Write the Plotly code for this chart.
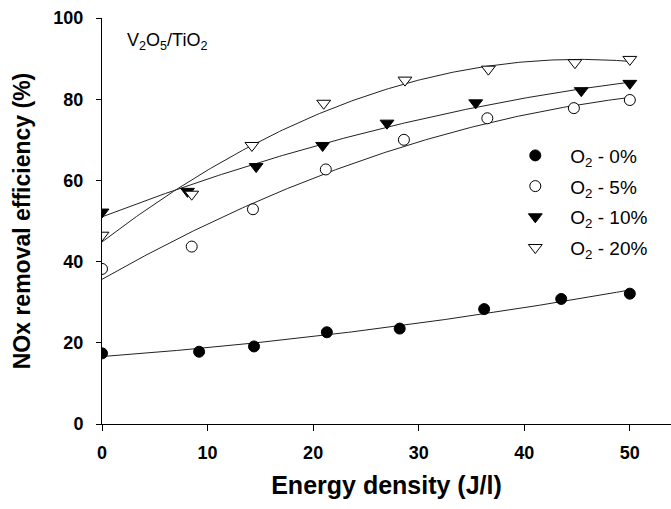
import numpy as np
import plotly.graph_objects as go

# Data
x_o2_0 = [0, 9.2, 14.4, 21.3, 28.2, 36.2, 43.5, 50]
y_o2_0 = [17.4, 17.8, 19.1, 22.6, 23.5, 28.3, 30.8, 32.1]

x_o2_5 = [0, 8.5, 14.3, 21.2, 28.6, 36.5, 44.7, 50]
y_o2_5 = [38.2, 43.7, 52.9, 62.7, 70.0, 75.3, 77.8, 79.8]

x_o2_10 = [0, 8.1, 14.6, 20.9, 27.0, 35.4, 45.4, 50]
y_o2_10 = [52.2, 57.3, 63.4, 68.6, 74.1, 79.1, 82.1, 83.9]

x_o2_20 = [0, 8.5, 14.2, 21.0, 28.7, 36.6, 44.8, 50]
y_o2_20 = [46.5, 56.6, 68.6, 79.0, 84.7, 87.4, 89.0, 89.8]

series_names = ["0%", "5%", "10%", "20%"]
x_ticks = [0, 10, 20, 30, 40, 50]
y_ticks = [0, 20, 40, 60, 80, 100]

FONT = "Liberation Sans, Arial, sans-serif"

def sub(s, px):
    return '<sub style="font-size:%dpx">%s</sub>' % (px, s)

def o2_label(pct):
    return 'O%s - %s' % (sub("2", 17), pct)

styles = [
    dict(symbol="circle", color="black", line=dict(color="black", width=1)),
    dict(symbol="circle", color="white", line=dict(color="black", width=1)),
    dict(symbol="triangle-down", color="black", line=dict(color="black", width=1)),
    dict(symbol="triangle-down", color="white", line=dict(color="black", width=1)),
]
sizes = [11, 11, 12, 12]

data = [(x_o2_0, y_o2_0), (x_o2_5, y_o2_5), (x_o2_10, y_o2_10), (x_o2_20, y_o2_20)]

fig = go.Figure()

# regression curves (2nd order polynomial fit of each series)
for (xs, ys) in data:
    coef = np.polyfit(xs, ys, 2)
    xf = np.linspace(min(xs), max(xs), 200)
    fig.add_trace(go.Scatter(x=xf, y=np.polyval(coef, xf), mode="lines",
                             line=dict(color="#222222", width=1),
                             showlegend=False, hoverinfo="skip"))

for i, ((xs, ys), st, nm, sz) in enumerate(zip(data, styles, series_names, sizes)):
    fig.add_trace(go.Scatter(x=xs, y=ys, mode="markers", name=o2_label(nm),
                             legendgroup=str(i),
                             marker=dict(size=sz, **st)))

fig.update_layout(
    width=671, height=509,
    margin=dict(l=102, r=0, t=18, b=85),
    paper_bgcolor="white", plot_bgcolor="white",
    font=dict(family=FONT, color="black"),
    showlegend=True,
    legend=dict(x=0.70, y=0.708, xanchor="left", yanchor="top",
                font=dict(size=19, family=FONT, color="black"),
                bgcolor="rgba(0,0,0,0)", tracegroupgap=3,
                itemwidth=60, itemsizing="trace"),
    xaxis=dict(range=[0, 53.9], tickvals=x_ticks, showgrid=False, zeroline=False,
               showline=True, linecolor="black", linewidth=1,
               ticks="outside", ticklen=6, tickcolor="black",
               ticklabelstandoff=6,
               tickfont=dict(size=18, family=FONT, weight="bold"),
               title=dict(text="Energy density (J/l)",
                          font=dict(size=25, family=FONT, weight="bold"),
                          standoff=14)),
    yaxis=dict(range=[0, 100], tickvals=y_ticks, showgrid=False, zeroline=False,
               showline=True, linecolor="black", linewidth=1,
               ticks="outside", ticklen=5, tickcolor="black",
               ticklabelstandoff=9,
               tickfont=dict(size=18, family=FONT, weight="bold"),
               title=dict(text="NOx removal efficiency (%)",
                          font=dict(size=23, family=FONT, weight="bold"),
                          standoff=16)),
)

fig.add_annotation(
    xref="paper", yref="paper", x=0.041, y=0.975, xanchor="left", yanchor="top",
    showarrow=False,
    text='V%sO%s/TiO%s' % (sub("2", 16), sub("5", 16), sub("2", 16)),
    font=dict(size=18, family=FONT, color="black"),
)

fig.write_html("out.html")
